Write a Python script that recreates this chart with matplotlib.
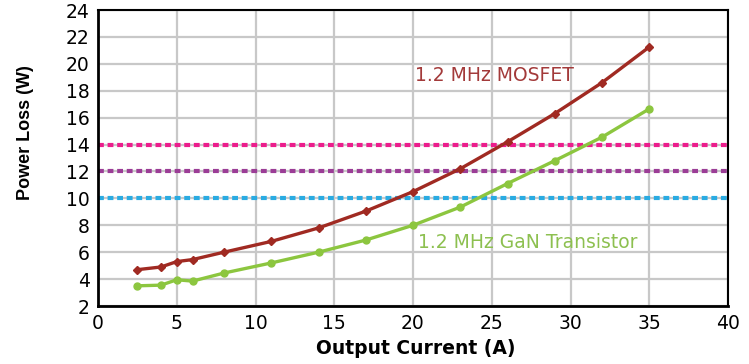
import matplotlib
matplotlib.use("Agg")
import matplotlib.pyplot as plt

plt.rcParams['font.family'] = ['DejaVu Sans']

current_a = [2.5, 4, 5, 6, 8, 11, 14, 17, 20, 23, 26, 29, 32, 35]
mosfet_loss = [4.7, 4.9, 5.3, 5.45, 6.0, 6.8, 7.8, 9.05, 10.5, 12.2, 14.2, 16.3, 18.6, 21.25]
gan_loss = [3.5, 3.55, 3.95, 3.85, 4.45, 5.2, 6.0, 6.9, 8.0, 9.35, 11.1, 12.8, 14.55, 16.65]

limit_levels = [14, 12, 10]
limit_colors = ['#ec1c8c', '#9b3d96', '#29abe2']

x_ticks = [0, 5, 10, 15, 20, 25, 30, 35, 40]
y_ticks = [2, 4, 6, 8, 10, 12, 14, 16, 18, 20, 22, 24]

mosfet_color = '#a02a22'
gan_color = '#8cc63f'

fig = plt.figure(figsize=(7.49, 3.64), dpi=100)
ax = fig.add_axes([98 / 749, 1 - 306 / 364, (728 - 98) / 749, (306 - 10) / 364])

ax.set_xlim(0, 40)
ax.set_ylim(2, 24)
ax.set_xticks(x_ticks)
ax.set_yticks(y_ticks)
ax.grid(True, color='#c8c8c8', linewidth=1.6)
ax.set_axisbelow(True)

# dotted loss budget levels
for lvl, col in zip(limit_levels, limit_colors):
    ax.axhline(lvl, color=col, linewidth=3, linestyle=(0, (1.4, 0.9)), zorder=2)

ax.plot(current_a, mosfet_loss, color=mosfet_color, linewidth=2.4,
        marker='D', markersize=4.5, zorder=3)
ax.plot(current_a, gan_loss, color=gan_color, linewidth=2.4,
        marker='o', markersize=5, zorder=3)

ax.text(20.1, 19.1, '1.2 MHz MOSFET', color='#a33a3a', fontsize=13.5, va='center')
ax.text(20.3, 6.75, '1.2 MHz GaN Transistor', color='#8dc050', fontsize=13.5, va='center')

for side, sp in ax.spines.items():
    sp.set_color('black')
    sp.set_linewidth(2.0 if side in ('left', 'bottom') else 1.5)

ax.tick_params(length=0, labelsize=13.5, pad=6)
ax.set_xlabel('Output Current (A)', fontsize=13.5, fontweight='bold')
ax.xaxis.set_label_coords(0.505, -0.112)
ax.set_ylabel('Power Loss (W)', fontsize=13, fontweight='bold',
              family=['Liberation Sans', 'DejaVu Sans'])
ax.yaxis.set_label_coords(-0.102, 0.585)

fig.savefig('out.png', dpi=100)
